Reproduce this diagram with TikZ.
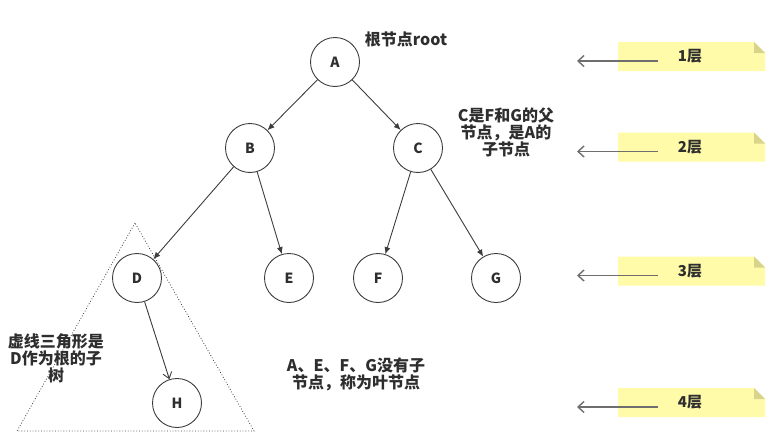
\documentclass[tikz,border=0pt]{standalone}
\usepackage{fontspec}
\setmainfont{Noto Sans CJK SC}
\usepackage{tikz}
\usetikzlibrary{arrows.meta}

\definecolor{notefill}{HTML}{FFFBA8}
\definecolor{notefold}{HTML}{D9D48C}
\definecolor{edgegray}{HTML}{3C3C3C}
\definecolor{levelgray}{HTML}{6E6E6E}
\definecolor{textgray}{HTML}{2E2E2E}

\tikzset{
  treenode/.style={circle, draw=edgegray, line width=0.9pt, minimum size=49pt, inner sep=0pt,
    text=textgray, font=\bfseries\fontsize{14}{16}\selectfont},
  treeedge/.style={draw=edgegray, line width=0.9pt, -{Latex[length=7pt, width=6pt]}},
  leafedge/.style={draw=edgegray, line width=0.9pt, -{Straight Barb[length=6pt, width=9pt]}},
  notetext/.style={align=center, text=textgray, font=\bfseries\fontsize{16}{17}\selectfont, inner sep=0pt},
  leveltext/.style={text=textgray, font=\bfseries\fontsize{15}{17}\selectfont, inner sep=0pt},
  levelarrow/.style={draw=levelgray, line width=1.4pt, -{Straight Barb[length=6pt, width=11pt]}}
}

\begin{document}
\begin{tikzpicture}[x=1pt, y=-1pt]
  \useasboundingbox (0,0) rectangle (774,439);

  % Subtree outline
  \draw[dotted, line width=0.8pt, edgegray] (135,223) -- (17,431) -- (254,431) -- cycle;

  % Nodes
  \node[treenode] (A) at (335,62) {A};
  \node[treenode] (B) at (250,148) {B};
  \node[treenode] (C) at (418,148) {C};
  \node[treenode] (D) at (137,278) {D};
  \node[treenode] (E) at (289,278) {E};
  \node[treenode] (F) at (378,278) {F};
  \node[treenode] (G) at (496,278) {G};
  \node[treenode] (H) at (177,403) {H};

  % Edges
  \draw[treeedge] (A) -- (B);
  \draw[treeedge] (A) -- (C);
  \draw[treeedge] (B) -- (D);
  \draw[treeedge] (B) -- (E);
  \draw[treeedge] (C) -- (F);
  \draw[treeedge] (C) -- (G);
  \draw[leafedge] (D) -- (H);

  % Annotations
  \node[notetext] (rootnote) at (406,39) {根节点root};
  \node[notetext] (cnote) at (506,132) {C是F和G的父\\节点，是A的\\子节点};
  \node[notetext] (subtreenote) at (56,358) {虚线三角形是\\D作为根的子\\树};
  \node[notetext] (leafnote) at (356,374) {A、E、F、G没有子\\节点，称为叶节点};

  % Levels
  \foreach \n/\y in {1/56.5, 2/147, 3/271, 4/402.5} {
    \fill[notefill] (618,\y-14.5) -- (754,\y-14.5) -- (765,\y-3.5) -- (765,\y+14.5) -- (618,\y+14.5) -- cycle;
    \fill[notefold] (754,\y-14.5) -- (765,\y-3.5) -- (754,\y-3.5) -- cycle;
    \node[leveltext] (level\n) at (690,\y) {{\n}层};
    \coordinate (lvstart\n) at (658,\y+4.5);
    \coordinate (lvend\n) at (577,\y+4.5);
    \draw[levelarrow] (lvstart\n) -- (lvend\n);
  }

\end{tikzpicture}
\end{document}
